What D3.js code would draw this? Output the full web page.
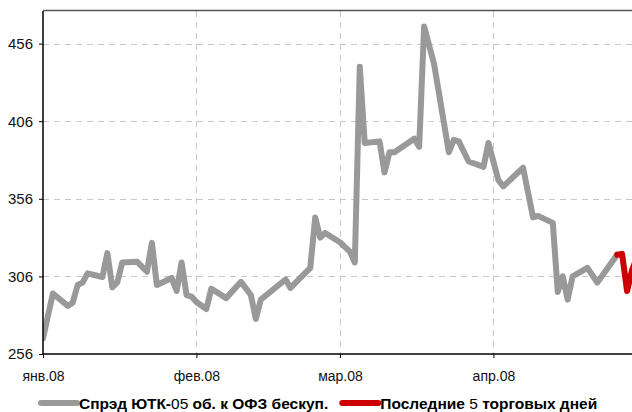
<!DOCTYPE html>
<html>
<head>
<meta charset="utf-8">
<script src="https://cdn.jsdelivr.net/npm/d3@7"></script>
<style>
  html, body { margin: 0; padding: 0; background: #fff; }
  svg { display: block; font-family: "Liberation Sans Narrow", "Arial Narrow", "Liberation Sans", sans-serif; }
</style>
</head>
<body>
<svg id="chart" width="632" height="412"></svg>
<script>
// spread, bp
const spreadDates = [
  "2008-01-01", "2008-01-03", "2008-01-06", "2008-01-07", "2008-01-08", "2008-01-09", "2008-01-10",
  "2008-01-13", "2008-01-14", "2008-01-15", "2008-01-16", "2008-01-17", "2008-01-20", "2008-01-22",
  "2008-01-23", "2008-01-24", "2008-01-27", "2008-01-28", "2008-01-29", "2008-01-30", "2008-01-31",
  "2008-02-01", "2008-02-03", "2008-02-04", "2008-02-07", "2008-02-10", "2008-02-12", "2008-02-13",
  "2008-02-14", "2008-02-19", "2008-02-20", "2008-02-24", "2008-02-25", "2008-02-26", "2008-02-27",
  "2008-03-01", "2008-03-03", "2008-03-04", "2008-03-05", "2008-03-06", "2008-03-09", "2008-03-10",
  "2008-03-11", "2008-03-12", "2008-03-16", "2008-03-17", "2008-03-18", "2008-03-20", "2008-03-23",
  "2008-03-24", "2008-03-25", "2008-03-27", "2008-03-30", "2008-03-31", "2008-04-02", "2008-04-03",
  "2008-04-07", "2008-04-09", "2008-04-10", "2008-04-13", "2008-04-14", "2008-04-15", "2008-04-16",
  "2008-04-17", "2008-04-20", "2008-04-22", "2008-04-26"
];
const spreadValues = [
  266, 295, 287, 289, 300.5, 302, 308,
  305.6, 321, 299, 302, 315, 315.5, 309,
  327.6, 300.5, 305, 296.6, 315, 294, 293,
  289.5, 285, 298, 292, 302.5, 294, 278.6,
  291, 304, 298.6, 311.5, 344, 331, 334,
  328, 322, 315, 441, 392, 393, 373,
  386, 386, 394.7, 389.5, 467, 443, 386,
  394, 393, 380, 376.6, 392, 368, 364,
  376, 344, 345, 340.5, 296, 306, 291,
  306, 311.5, 302, 320
];
// last 5 trading days
const lastDates = ["2008-04-26", "2008-04-27", "2008-04-28", "2008-04-29", "2008-04-30"];
const lastValues = [320, 320.5, 296.6, 310, 318];

const yTicks = [256, 306, 356, 406, 456];
const xTickDates = ["2008-01-01", "2008-02-01", "2008-03-01", "2008-04-01"];
const xTickLabels = ["янв.08", "фев.08", "мар.08", "апр.08"];

const parse = d3.timeParse("%Y-%m-%d");

const margin = { top: 11, right: 0, bottom: 58, left: 43 };
const width = 632, height = 412;

const svg = d3.select("#chart");

const x = d3.scaleTime()
  .domain([parse("2008-01-01"), parse("2008-04-29")])
  .range([margin.left, width - margin.right]);

const y = d3.scaleLinear()
  .domain([256, 477])
  .range([height - margin.bottom, margin.top]);

svg.append("defs").append("clipPath").attr("id", "plotClip")
  .append("rect")
  .attr("x", margin.left).attr("y", margin.top)
  .attr("width", width - margin.left - margin.right)
  .attr("height", height - margin.top - margin.bottom);

// grid
const grid = svg.append("g")
  .attr("stroke", "#c8c8c8")
  .attr("stroke-width", 1)
  .attr("stroke-dasharray", "6,5");

grid.selectAll("line.h")
  .data(yTicks.slice(1))
  .join("line")
  .attr("x1", margin.left).attr("x2", width)
  .attr("y1", d => Math.round(y(d)) + 0.5).attr("y2", d => Math.round(y(d)) + 0.5);

grid.selectAll("line.v")
  .data(xTickDates.slice(1))
  .join("line")
  .attr("y1", margin.top).attr("y2", y(256))
  .attr("x1", d => Math.round(x(parse(d))) + 0.5).attr("x2", d => Math.round(x(parse(d))) + 0.5);

// top border
svg.append("line")
  .attr("x1", margin.left).attr("x2", width)
  .attr("y1", margin.top - 0.5).attr("y2", margin.top - 0.5)
  .attr("stroke", "#555").attr("stroke-width", 1.5);

// lines
const line = d3.line()
  .x(d => x(d[0]))
  .y(d => y(d[1]));

const plot = svg.append("g").attr("clip-path", "url(#plotClip)");

plot.append("path")
  .datum(spreadDates.map((d, i) => [parse(d), spreadValues[i]]))
  .attr("fill", "none")
  .attr("stroke", "#999999")
  .attr("stroke-width", 6)
  .attr("stroke-linejoin", "round")
  .attr("stroke-linecap", "round")
  .attr("d", line);

plot.append("path")
  .datum(lastDates.map((d, i) => [parse(d), lastValues[i]]))
  .attr("fill", "none")
  .attr("stroke", "#cc0000")
  .attr("stroke-width", 6)
  .attr("stroke-linejoin", "round")
  .attr("stroke-linecap", "round")
  .attr("d", line);

// axes
const yAxis = svg.append("g")
  .attr("transform", `translate(${margin.left},0)`)
  .call(d3.axisLeft(y).tickValues(yTicks).tickFormat(d3.format("d")).tickSize(4).tickPadding(6));

const xAxis = svg.append("g")
  .attr("transform", `translate(0,${y(256)})`)
  .call(d3.axisBottom(x)
    .tickValues(xTickDates.map(parse))
    .tickFormat((d, i) => xTickLabels[i])
    .tickSize(4).tickPadding(13));

[yAxis, xAxis].forEach(a => {
  a.select(".domain").attr("stroke", "#000").attr("stroke-width", 1.5);
  a.selectAll(".tick line").attr("stroke", "#000");
  a.selectAll("text")
    .attr("fill", "#111")
    .attr("font-family", '"Liberation Sans Narrow", "Arial Narrow", sans-serif')
    .attr("font-size", 15);
});
xAxis.selectAll("text").attr("font-size", 14);
yAxis.select(".domain").attr("d", `M0,${margin.top}V${y(256)}`);
xAxis.select(".domain").attr("d", `M${margin.left},0H${width}`);

// legend
const legendItems = [
  { color: "#999999", parts: [["Спрэд ЮТК-", true], ["05", false], [" об. к ОФЗ бескуп.", true]] },
  { color: "#cc0000", parts: [["Последние ", true], ["5", false], [" торговых дней", true]] }
];

const legend = svg.append("g").attr("transform", "translate(0,403)");
let lx = 41;
legendItems.forEach(item => {
  legend.append("line")
    .attr("x1", lx).attr("x2", lx + 36)
    .attr("stroke", item.color).attr("stroke-width", 6).attr("stroke-linecap", "round");
  const t = legend.append("text")
    .attr("x", lx + 38).attr("y", 6)
    .attr("font-size", 15.5)
    .attr("fill", "#000");
  item.parts.forEach(([s, bold]) => {
    t.append("tspan").attr("font-weight", bold ? "bold" : "normal").text(s);
  });
  lx += 38 + t.node().getComputedTextLength() + 14;
});
</script>
</body>
</html>
